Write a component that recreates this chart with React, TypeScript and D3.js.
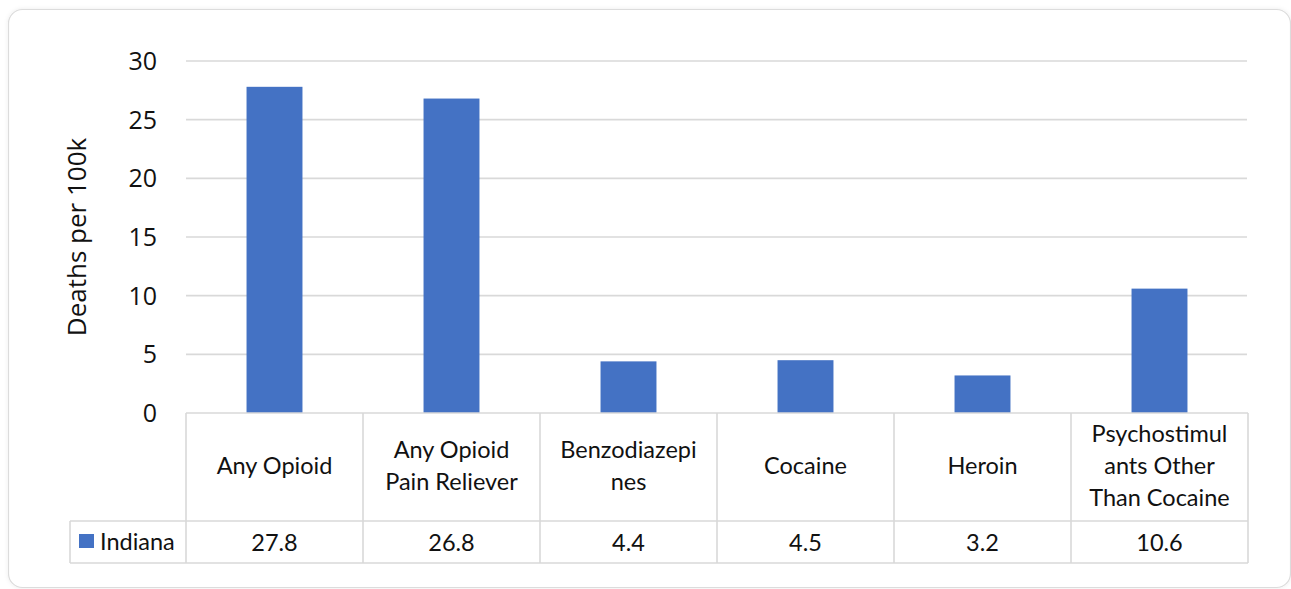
import React from "react";
import * as d3 from "d3";

// Overdose deaths per 100k by drug category, Indiana
const categories: string[][] = [
  ["Any Opioid"],
  ["Any Opioid", "Pain Reliever"],
  ["Benzodiazepi", "nes"],
  ["Cocaine"],
  ["Heroin"],
  ["Psychostimul", "ants Other", "Than Cocaine"],
];
const categoryKeys = ["opioid", "painReliever", "benzo", "cocaine", "heroin", "psycho"];
const seriesName = "Indiana";
const values = [27.8, 26.8, 4.4, 4.5, 3.2, 10.6];
const yTicks = [0, 5, 10, 15, 20, 25, 30];
const yTitle = "Deaths per 100k";

const W = 1291;
const H = 589;
const plotLeft = 186;
const plotRight = 1248;
const plotTop = 61;
const plotBottom = 413;
const headerBottom = 521;
const tableBottom = 563;
const legendLeft = 70;

const BAR = "#4472C4";
const GRID = "#d9d9d9";
const TEXT = "#111";
const tableFont = "Lato, 'Noto Sans', sans-serif";
const axisFont = "'Open Sans', 'Noto Sans', sans-serif";

export default function App() {
  const x = d3.scaleBand<string>().domain(categoryKeys).range([plotLeft, plotRight]).padding(0);
  const y = d3.scaleLinear().domain([0, 30]).range([plotBottom, plotTop]);
  const barW = x.bandwidth() * 0.316;
  const lineH = 32;
  const headerMid = (plotBottom + headerBottom) / 2;
  const rowMid = (headerBottom + tableBottom) / 2;

  return (
    <svg
      width={W}
      height={H}
      style={{ position: "absolute", left: 0, top: 0 }}
      xmlns="http://www.w3.org/2000/svg"
    >
      <defs>
        <filter id="cardShadow" x="-5%" y="-5%" width="110%" height="110%">
          <feDropShadow dx="0" dy="0" stdDeviation="2" floodColor="#000" floodOpacity="0.08" />
        </filter>
      </defs>
      <rect width={W} height={H} fill="#fff" />
      <rect
        x={8.5}
        y={9.5}
        width={1282}
        height={578}
        rx={14}
        fill="#fff"
        stroke="#dcdcdc"
        strokeWidth={1.2}
        filter="url(#cardShadow)"
      />

      {/* gridlines */}
      {yTicks.filter((t) => t > 0).map((t) => (
        <line key={t} x1={plotLeft} x2={plotRight - 1} y1={y(t)} y2={y(t)} stroke={GRID} strokeWidth={1.6} />
      ))}

      {/* y tick labels */}
      {yTicks.map((t) => (
        <text
          key={t}
          x={157}
          y={y(t) - 1}
          textAnchor="end"
          dominantBaseline="central"
          fontFamily={axisFont}
          fontSize={25}
          fill={TEXT}
        >
          {t}
        </text>
      ))}

      {/* y axis title */}
      <text
        transform={`translate(86, ${(plotTop + plotBottom) / 2}) rotate(-90)`}
        textAnchor="middle"
        fontFamily={axisFont}
        fontSize={26}
        fill={TEXT}
      >
        {yTitle}
      </text>

      {/* bars */}
      {categoryKeys.map((k, i) => {
        const cx = (x(k) as number) + x.bandwidth() / 2;
        return (
          <rect
            key={k}
            x={cx - barW / 2}
            y={y(values[i])}
            width={barW}
            height={y(0) - y(values[i])}
            fill={BAR}
          />
        );
      })}

      {/* data table */}
      <g stroke={GRID} strokeWidth={1.6} fill="none">
        <line x1={plotLeft} x2={plotRight} y1={plotBottom} y2={plotBottom} />
        <line x1={legendLeft} x2={plotRight} y1={headerBottom} y2={headerBottom} />
        <line x1={legendLeft} x2={plotRight} y1={tableBottom} y2={tableBottom} />
        <line x1={legendLeft} x2={legendLeft} y1={headerBottom} y2={tableBottom} />
        {categoryKeys.map((k) => (
          <line key={k} x1={x(k)} x2={x(k)} y1={plotBottom} y2={tableBottom} />
        ))}
        <line x1={plotRight} x2={plotRight} y1={plotBottom} y2={tableBottom} />
      </g>

      {categoryKeys.map((k, i) => {
        const cx = (x(k) as number) + x.bandwidth() / 2;
        const lines = categories[i];
        const start = headerMid - ((lines.length - 1) * lineH) / 2 - 2;
        return (
          <g key={k} fontFamily={tableFont} fontSize={23.5} fill={TEXT} textAnchor="middle">
            {lines.map((ln, j) => (
              <text key={j} x={cx} y={start + j * lineH} dominantBaseline="central">
                {ln}
              </text>
            ))}
            <text x={cx} y={rowMid} dominantBaseline="central">
              {values[i].toFixed(1)}
            </text>
          </g>
        );
      })}

      {/* legend key */}
      <rect x={79} y={534} width={15} height={14} fill={BAR} />
      <text x={100} y={rowMid - 1} dominantBaseline="central" fontFamily={tableFont} fontSize={23.5} fill={TEXT}>
        {seriesName}
      </text>
    </svg>
  );
}
